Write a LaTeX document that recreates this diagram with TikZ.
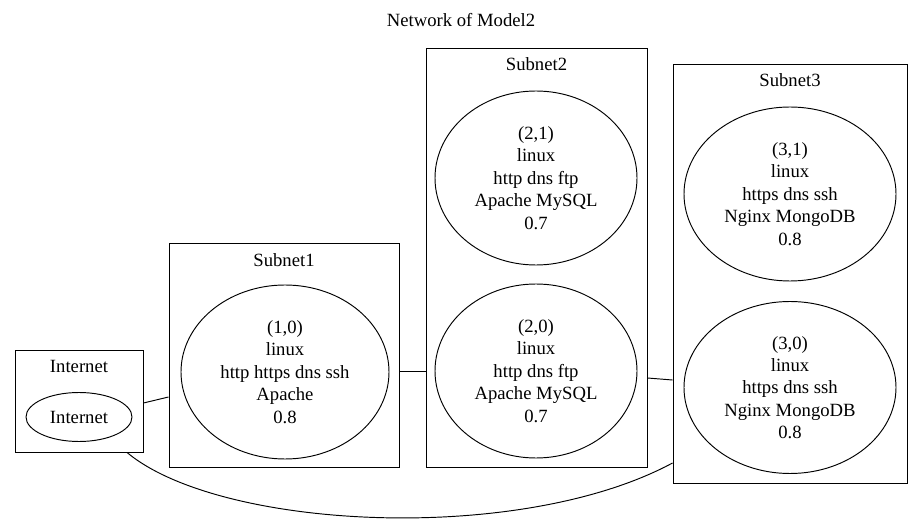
\documentclass[tikz,border=0pt]{standalone}
\usepackage{fontspec}
\setmainfont{Liberation Serif}
\usetikzlibrary{shapes.geometric}
\begin{document}
\begin{tikzpicture}[x=1pt,y=-1pt,
  every node/.style={font=\fontsize{18.67pt}{22.4pt}\selectfont},
  cluster/.style={draw,line width=0.95pt,rectangle,inner sep=0pt},
  clabel/.style={anchor=base,inner sep=0pt},
  host/.style={draw,line width=0.95pt,ellipse,inner sep=0pt,align=center},
  link/.style={draw,line width=0.95pt}]
\useasboundingbox (0,0) rectangle (922,521);
\node[clabel] (title) at (461,27) {Network of Model2};
% clusters
\node[cluster,minimum width=128pt,minimum height=102pt] (inetc) at (79,401) {};
\node[clabel] (inetl) at (79,373) {Internet};
\node[cluster,minimum width=230pt,minimum height=224pt] (s1) at (284,355) {};
\node[clabel] (s1l) at (284,267) {Subnet1};
\node[cluster,minimum width=221pt,minimum height=419pt] (s2) at (536.5,257.5) {};
\node[clabel] (s2l) at (536.5,71) {Subnet2};
\node[cluster,minimum width=234pt,minimum height=419pt] (s3) at (790,273.5) {};
\node[clabel] (s3l) at (790,87) {Subnet3};
% hosts
\node[host,minimum width=106pt,minimum height=49pt] (inet) at (79,417) {Internet};
\node[host,minimum width=208pt,minimum height=174pt] (h10) at (285,372) {(1,0)\\linux\\http https dns ssh\\Apache\\0.8};
\node[host,minimum width=202pt,minimum height=174pt] (h21) at (536,178) {(2,1)\\linux\\http dns ftp\\Apache MySQL\\0.7};
\node[host,minimum width=202pt,minimum height=174pt] (h20) at (536,371) {(2,0)\\linux\\http dns ftp\\Apache MySQL\\0.7};
\node[host,minimum width=212pt,minimum height=174pt] (h31) at (790,194) {(3,1)\\linux\\https dns ssh\\Nginx MongoDB\\0.8};
\node[host,minimum width=212pt,minimum height=172pt] (h30) at (790,387.5) {(3,0)\\linux\\https dns ssh\\Nginx MongoDB\\0.8};
% links
\draw[link] ([yshift=-2pt]inetc.east) -- ([yshift=-42pt]s1.west);
\draw[link] ([yshift=-16pt]s1.east) -- ([yshift=-113.5pt]s2.west);
\draw[link] ([yshift=-120.5pt]s2.east) -- ([yshift=-106.5pt]s3.west);
\draw[link] ([xshift=48pt]inetc.south) .. controls (220,530) and (520,545) .. ([yshift=-189.5pt]s3.west);
\end{tikzpicture}
\end{document}
